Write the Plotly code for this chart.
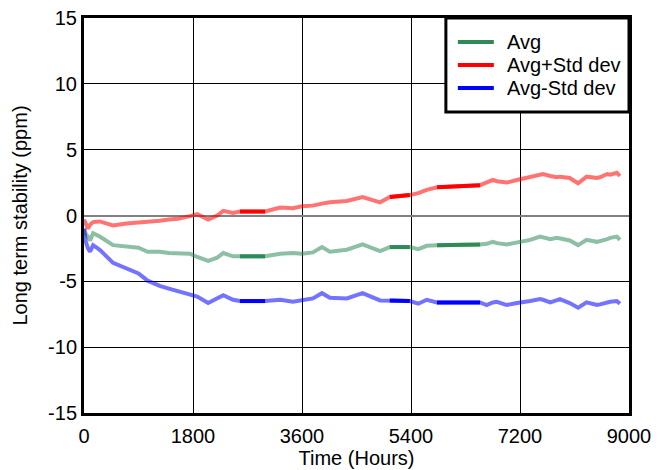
import plotly.graph_objects as go

# Elapsed time (hours) at each sample
hours = [0, 30, 66, 100, 150, 260, 480, 700, 900, 1050, 1250, 1400, 1550, 1750, 1870,
         2050, 2200, 2300, 2460, 2575, 2990, 3240, 3450, 3600, 3780, 3930, 4060, 4340,
         4600, 4890, 5050, 5380, 5520, 5660, 5830, 6540, 6650, 6750, 6820, 6980, 7150,
         7250, 7370, 7530, 7580, 7700, 7810, 7860, 8020, 8160, 8300, 8470, 8520, 8640,
         8690, 8800, 8850]

# Long term stability (ppm)
avg = [-1.0, -1.4, -1.6, -1.9, -1.35, -1.6, -2.25, -2.35, -2.45, -2.75, -2.75, -2.85,
       -2.9, -2.9, -3.15, -3.45, -3.2, -2.85, -3.1, -3.1, -3.1, -2.9, -2.85, -2.9, -2.8,
       -2.4, -2.75, -2.6, -2.2, -2.7, -2.4, -2.4, -2.55, -2.3, -2.25, -2.2, -2.15, -2.0,
       -2.1, -2.2, -2.05, -1.95, -1.85, -1.6, -1.65, -1.8, -1.7, -1.75, -1.9, -2.25,
       -1.85, -2.0, -1.95, -1.8, -1.7, -1.6, -1.85]
avg_plus = [-0.3, -0.7, -1.0, -0.7, -0.5, -0.45, -0.75, -0.6, -0.55, -0.5, -0.4, -0.3,
            -0.25, -0.05, 0.1, -0.3, 0.0, 0.35, 0.2, 0.3, 0.3, 0.6, 0.55, 0.7, 0.75, 0.9,
            1.0, 1.1, 1.4, 1.0, 1.4, 1.55, 1.7, 1.95, 2.15, 2.3, 2.5, 2.7, 2.6, 2.5, 2.7,
            2.8, 2.95, 3.1, 3.15, 3.0, 2.9, 2.95, 2.85, 2.45, 2.95, 2.85, 2.9, 3.15, 3.1,
            3.25, 3.0]
avg_minus = [-1.0, -2.0, -2.5, -2.75, -2.25, -2.6, -3.6, -4.0, -4.4, -4.95, -5.35, -5.55,
             -5.75, -5.95, -6.15, -6.65, -6.3, -6.05, -6.4, -6.5, -6.5, -6.4, -6.55, -6.45,
             -6.3, -5.9, -6.25, -6.3, -5.9, -6.45, -6.45, -6.5, -6.7, -6.4, -6.6, -6.6,
             -6.8, -6.6, -6.55, -6.8, -6.65, -6.55, -6.5, -6.35, -6.4, -6.6, -6.4, -6.35,
             -6.65, -7.0, -6.6, -6.8, -6.75, -6.6, -6.55, -6.5, -6.7]

# Stretches with no logged readings, bridged by a straight segment
gaps = [(2575, 2990), (5050, 5380), (5830, 6540)]

x_ticks = [0, 1800, 3600, 5400, 7200, 9000]
y_ticks = [-15, -10, -5, 0, 5, 10, 15]

series = [
    ("Avg", avg, (46, 139, 87)),
    ("Avg+Std dev", avg_plus, (255, 0, 0)),
    ("Avg-Std dev", avg_minus, (0, 0, 255)),
]

family = "Liberation Sans, Arial, sans-serif"
tick_font = dict(family=family, size=20, color="black")
title_font = dict(family=family, size=20, color="black")

fig = go.Figure()
for name, vals, (r, g, b) in series:
    # measured trace, drawn semi-transparent
    fig.add_trace(go.Scatter(
        x=hours, y=vals, mode="lines", showlegend=False, name=name,
        line=dict(color=f"rgba({r},{g},{b},0.55)", width=4),
        hoverinfo="skip"))
    # bridged stretches, drawn solid
    gx, gy = [], []
    for a, c in gaps:
        for h, v in zip(hours, vals):
            if a <= h <= c:
                gx.append(h)
                gy.append(v)
        gx.append(None)
        gy.append(None)
    fig.add_trace(go.Scatter(
        x=gx, y=gy, mode="lines", name=name, showlegend=False,
        line=dict(color=f"rgb({r},{g},{b})", width=4)))

# Boxed key in the upper-right corner of the plot area (paper coordinates)
key_left, key_bottom = 0.664, 0.762
fig.add_shape(type="rect", xref="paper", yref="paper",
              x0=key_left, x1=1.0, y0=key_bottom, y1=1.0,
              line=dict(color="black", width=3), fillcolor="white", layer="above")
row_y = [0.939, 0.881, 0.823]
for (name, _, (r, g, b)), yy in zip(series, row_y):
    fig.add_shape(type="line", xref="paper", yref="paper",
                  x0=0.686, x1=0.752, y0=yy, y1=yy,
                  line=dict(color=f"rgb({r},{g},{b})", width=4), layer="above")
    fig.add_annotation(xref="paper", yref="paper", x=0.7725, y=yy,
                       xanchor="left", yanchor="middle", showarrow=False,
                       text=name, font=dict(family=family, size=20, color="black"))

fig.update_layout(
    width=662, height=470,
    margin=dict(l=84, r=33, t=18, b=57),
    paper_bgcolor="white", plot_bgcolor="white",
    font=title_font,
    showlegend=False,
    xaxis=dict(
        range=[0, 9000], tickvals=x_ticks, ticktext=[str(t) for t in x_ticks],
        showgrid=True, gridcolor="black", gridwidth=1,
        showline=True, linecolor="black", linewidth=3, mirror=True,
        zeroline=False, ticks="", tickfont=tick_font, ticklabelstandoff=3,
        automargin=False,
        title=dict(text="Time (Hours)", font=title_font, standoff=0),
    ),
    yaxis=dict(
        range=[-15, 15], tickvals=y_ticks, ticktext=[str(t) for t in y_ticks],
        showgrid=True, gridcolor="black", gridwidth=1,
        showline=True, linecolor="black", linewidth=3, mirror=True,
        zeroline=True, zerolinecolor="#808080", zerolinewidth=2,
        ticks="", tickfont=tick_font, automargin=False,
        title=dict(text="Long term stability (ppm)", font=title_font, standoff=16),
    ),
)

fig.write_html("out.html")
